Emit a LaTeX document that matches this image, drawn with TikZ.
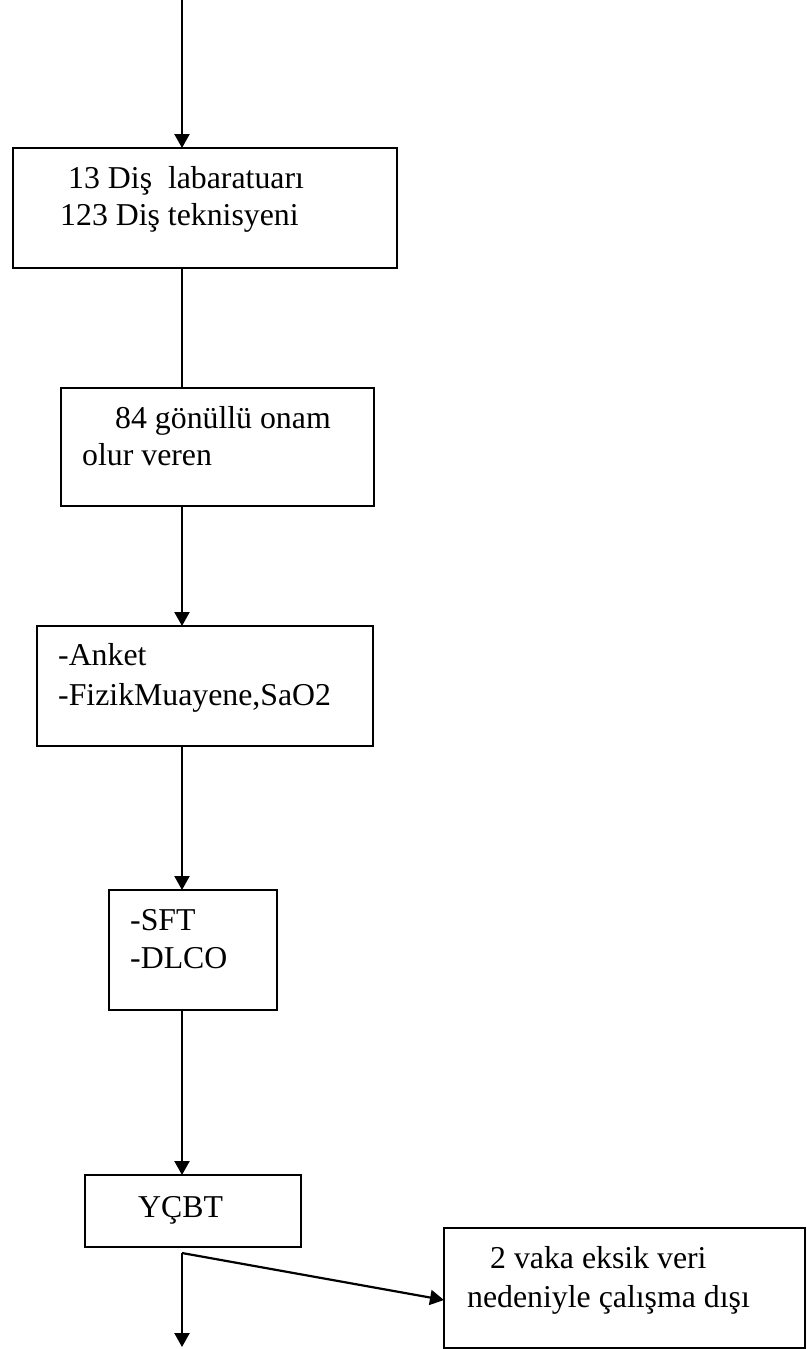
\documentclass[tikz,border=0pt]{standalone}
\usepackage{fontspec}
\setmainfont{Liberation Serif}
\usetikzlibrary{arrows.meta}
\begin{document}
\begin{tikzpicture}[x=1pt,y=-1pt,
  stepbox/.style={draw=black, line width=2.2pt, inner sep=0pt, outer sep=0pt},
  conn/.style={draw=black, line width=2.2pt},
  arr/.style={conn, -{Triangle[length=14pt,width=15pt]}},
  txt/.style={inner sep=0pt, anchor=base west, font=\fontsize{31.8}{38}\selectfont}]
\useasboundingbox (0,0) rectangle (806,1349);
% boxes
\node[stepbox, minimum width=384pt, minimum height=120pt] (b1) at (205,208) {};
\node[stepbox, minimum width=313pt, minimum height=118pt] (b2) at (217.5,447) {};
\node[stepbox, minimum width=336pt, minimum height=120pt] (b3) at (205,686) {};
\node[stepbox, minimum width=168pt, minimum height=120pt] (b4) at (193,950) {};
\node[stepbox, minimum width=216pt, minimum height=72pt] (b5) at (193,1211) {};
\node[stepbox, minimum width=361pt, minimum height=120pt] (b6) at (624.5,1288) {};
% text
\node[txt] (t1a) at (68,188) {13 Diş\ \ labaratuarı};
\node[txt] (t1b) at (60,225) {123 Diş teknisyeni};
\node[txt] (t2a) at (115,428) {84 gönüllü onam};
\node[txt] (t2b) at (82,465) {olur veren};
\node[txt] (t3a) at (58,665) {-Anket};
\node[txt] (t3b) at (58,705) {-FizikMuayene,SaO2};
\node[txt] (t4a) at (130,930) {-SFT};
\node[txt] (t4b) at (130,968) {-DLCO};
\node[txt] (t5) at (138,1217) {YÇBT};
\node[txt] (t6a) at (490,1268) {2 vaka eksik veri};
\node[txt] (t6b) at (467,1307) {nedeniyle çalışma dışı};
% connectors
\coordinate (top) at (182,0);
\coordinate (split) at (182,1253);
\coordinate (bot) at (182,1347);
\coordinate (b6in) at (444,1300);
\draw[arr] (top) -- (top |- b1.north);
\draw[conn] (top |- b1.south) -- (top |- b2.north);
\draw[arr] (top |- b2.south) -- (top |- b3.north);
\draw[arr] (top |- b3.south) -- (top |- b4.north);
\draw[arr] (top |- b4.south) -- (top |- b5.north);
\draw[arr] (split) -- (bot);
\draw[arr] (split) -- (b6in);
\end{tikzpicture}
\end{document}
